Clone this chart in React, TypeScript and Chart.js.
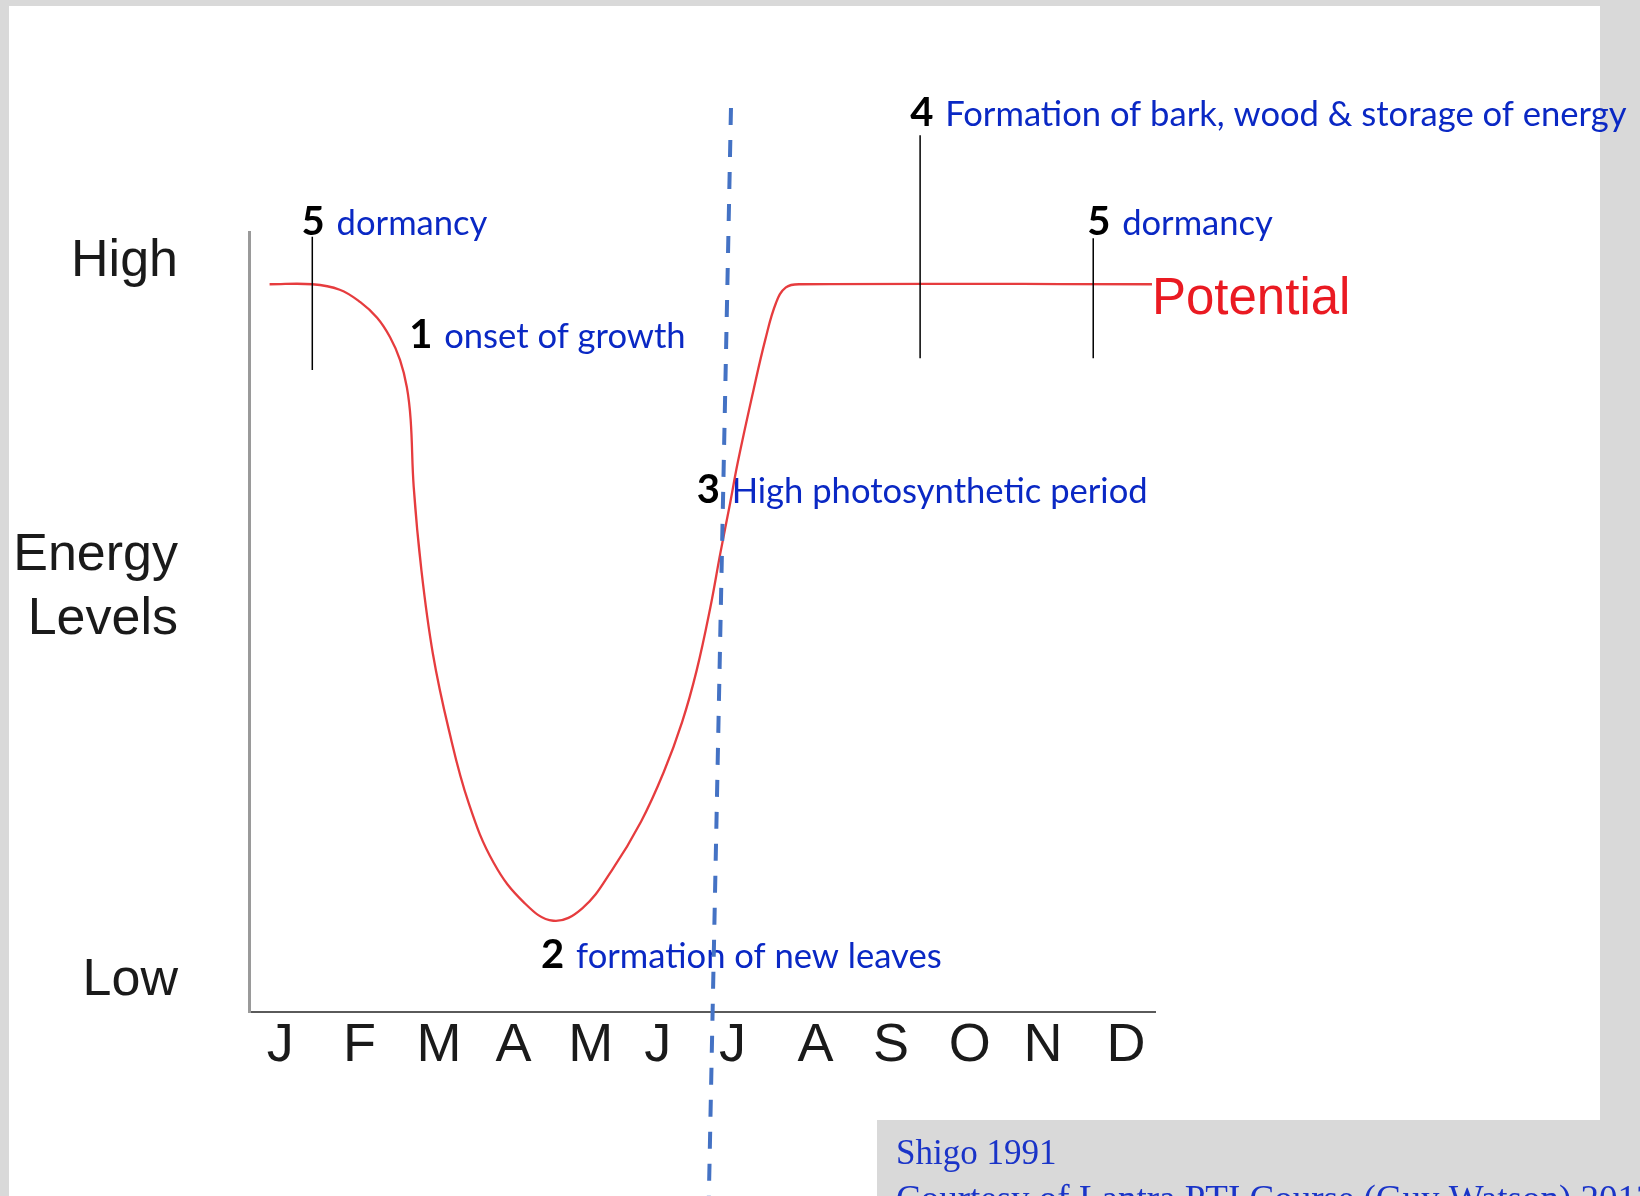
import React, { useEffect, useRef } from "react";
import { Chart, registerables } from "chart.js";

Chart.register(...registerables);

// ---- Axis categories / tick labels ----
const MONTHS = ["J", "F", "M", "A", "M", "J", "J", "A", "S", "O", "N", "D"];
const MONTH_POS = [-0.03, 1.01, 2.05, 3.03, 4.04, 4.92, 5.9, 6.99, 7.98, 9.01, 9.97, 11.06];
const LEVEL_TICKS = [96.2, 54.4, 4.0];
const LEVEL_LABELS = [["High"], ["Energy", "Levels"], ["Low"]];

// ---- "Potential" energy curve (month position, energy level 0..100) ----
const POTENTIAL_MONTH = [
  -0.17, 0.39, 0.75, 1.02, 1.24, 1.41, 1.54, 1.63, 1.68, 1.72, 1.82, 1.97, 2.18,
  2.44, 2.77, 3.17, 3.55, 3.93, 4.32, 4.7, 5.0, 5.24, 5.43, 5.61, 5.74, 5.87,
  5.97, 6.17, 6.33, 6.47, 6.6, 6.79, 11.4,
];
const POTENTIAL_LEVEL = [
  93.3, 93.3, 92.6, 91.0, 89.0, 86.5, 83.6, 80.1, 75.9, 67.3, 56.7, 46.0, 36.2,
  26.8, 19.1, 14.0, 11.7, 13.3, 18.2, 24.4, 30.8, 37.2, 43.8, 51.9, 58.8, 65.3,
  70.5, 79.5, 86.2, 90.9, 92.9, 93.3, 93.3,
];
const SERIES_NAME = "Potential";
const SERIES_LABEL_MONTH = 11.4;
const SERIES_LABEL_LEVEL = 89.5;

// ---- dashed divider line (top point, bottom point) ----
const DIVIDER_MONTH = [5.88, 5.59];
const DIVIDER_LEVEL = [115.9, -23.6];

// ---- thin black marker lines ----
const MARKER_MONTH = [0.39, 8.36, 10.63];
const MARKER_TOP = [99.4, 112.4, 99.2];
const MARKER_BOTTOM = [82.3, 83.8, 83.8];

// ---- numbered annotations ----
const NOTE_NUMBERS = ["5", "1", "2", "3", "4", "5"];
const NOTE_TEXTS = [
  "dormancy",
  "onset of growth",
  "formation of new leaves",
  "High photosynthetic period",
  "Formation of bark, wood & storage of energy",
  "dormancy",
];
const NOTE_MONTH = [0.25, 1.66, 3.39, 5.43, 8.23, 10.55];
const NOTE_LEVEL = [99.6, 85.1, 5.6, 65.3, 113.6, 99.6];

// ---- source credit ----
const SOURCE_LINES = ["Shigo 1991", "Courtesy of Lantra PTI Course (Guy Watson) 2013"];

const W = 1640;
const H = 1196;
const GREY = "#d9d9d9";
const BLUE = "#0a28c4";
const NOTE_FONT = "Lato";

const pagePlugin = {
  id: "pageBackground",
  beforeDraw(chart: any) {
    const { ctx } = chart;
    ctx.save();
    ctx.fillStyle = GREY;
    ctx.fillRect(0, 0, W, H);
    ctx.fillStyle = "#ffffff";
    ctx.fillRect(9, 6, 1591, H - 6);
    ctx.fillStyle = GREY;
    ctx.fillRect(877, 1120, W - 877, H - 1120);
    ctx.fillStyle = "#1a34c8";
    ctx.textAlign = "left";
    ctx.textBaseline = "alphabetic";
    ctx.font = '35px "Liberation Serif"';
    ctx.fillText(SOURCE_LINES[0], 896, 1164);
    ctx.font = '37px "Liberation Serif"';
    ctx.fillText(SOURCE_LINES[1], 896, 1211);
    ctx.restore();
  },
};

const notesPlugin = {
  id: "notes",
  beforeDatasetsDraw(chart: any) {
    const { ctx } = chart;
    const xs = chart.scales.x;
    const ys = chart.scales.y;
    ctx.save();
    ctx.textAlign = "left";
    ctx.textBaseline = "alphabetic";
    NOTE_NUMBERS.forEach((num, i) => {
      const px = xs.getPixelForValue(NOTE_MONTH[i]);
      const py = ys.getPixelForValue(NOTE_LEVEL[i]);
      ctx.font = `bold 40px ${NOTE_FONT}`;
      ctx.fillStyle = "#000000";
      ctx.fillText(num, px, py);
      ctx.font = `34.6px ${NOTE_FONT}`;
      ctx.fillStyle = BLUE;
      ctx.fillText(NOTE_TEXTS[i], px + 35, py);
    });
    ctx.font = '51px "Liberation Sans"';
    ctx.fillStyle = "#ea1a22";
    ctx.fillText(
      SERIES_NAME,
      xs.getPixelForValue(SERIES_LABEL_MONTH),
      ys.getPixelForValue(SERIES_LABEL_LEVEL)
    );
    ctx.restore();
  },
};

export default function App() {
  const canvasRef = useRef<HTMLCanvasElement | null>(null);

  useEffect(() => {
    document.body.style.margin = "0";
    document.body.style.overflow = "hidden";
    const canvas = canvasRef.current;
    if (!canvas) return;

    const potential = POTENTIAL_MONTH.map((m, i) => ({ x: m, y: POTENTIAL_LEVEL[i] }));
    const divider = DIVIDER_MONTH.map((m, i) => ({ x: m, y: DIVIDER_LEVEL[i] }));
    const markers = MARKER_MONTH.map((m, i) => ({
      type: "line" as const,
      label: `marker${i}`,
      data: [
        { x: m, y: MARKER_TOP[i] },
        { x: m, y: MARKER_BOTTOM[i] },
      ],
      borderColor: "#000000",
      borderWidth: 1.5,
      pointRadius: 0,
      tension: 0,
      clip: false as any,
    }));

    const chart = new Chart(canvas, {
      type: "line",
      data: {
        datasets: [
          {
            label: "divider",
            data: divider,
            borderColor: "#4472c4",
            borderWidth: 4,
            borderDash: [17, 15],
            borderCapStyle: "butt",
            pointRadius: 0,
            tension: 0,
            clip: false as any,
          },
          ...markers,
          {
            label: SERIES_NAME,
            data: potential,
            borderColor: "#e63c3e",
            borderWidth: 2.3,
            pointRadius: 0,
            tension: 0.4,
            clip: false as any,
          },
        ],
      },
      options: {
        animation: false,
        responsive: false,
        devicePixelRatio: 1,
        events: [],
        layout: { padding: { left: 0, top: 232, right: W - 1155, bottom: 84 } },
        plugins: {
          legend: { display: false },
          tooltip: { enabled: false },
          title: { display: false },
        },
        scales: {
          x: {
            type: "linear",
            min: -0.44,
            max: 11.44,
            afterFit: (scale: any) => {
              scale.height = 100;
            },
            afterBuildTicks: (scale: any) => {
              scale.ticks = MONTH_POS.map((v) => ({ value: v }));
            },
            grid: { display: false, drawTicks: false },
            border: { display: true, color: "#5a5a5a", width: 2 },
            ticks: {
              autoSkip: false,
              maxRotation: 0,
              minRotation: 0,
              padding: 7,
              color: "#1a1a1a",
              font: { family: '"Liberation Sans"', size: 54, lineHeight: 1 },
              callback: (_v: any, i: number) => MONTHS[i],
            },
          },
          y: {
            type: "linear",
            min: 0,
            max: 100,
            afterFit: (scale: any) => {
              scale.width = 249;
            },
            afterBuildTicks: (scale: any) => {
              scale.ticks = LEVEL_TICKS.map((v) => ({ value: v }));
            },
            grid: { display: false, drawTicks: false },
            border: { display: true, color: "#9a9a9a", width: 3 },
            ticks: {
              autoSkip: false,
              padding: 71,
              color: "#1a1a1a",
              font: { family: '"Liberation Sans"', size: 52, lineHeight: 1.22 },
              callback: (_v: any, i: number) => LEVEL_LABELS[i],
            },
          },
        },
      },
      plugins: [pagePlugin, notesPlugin],
    });

    return () => chart.destroy();
  }, []);

  return (
    <div style={{ position: "fixed", left: 0, top: 0, width: W, height: H }}>
      <canvas ref={canvasRef} width={W} height={H} style={{ display: "block", width: W, height: H }} />
    </div>
  );
}
